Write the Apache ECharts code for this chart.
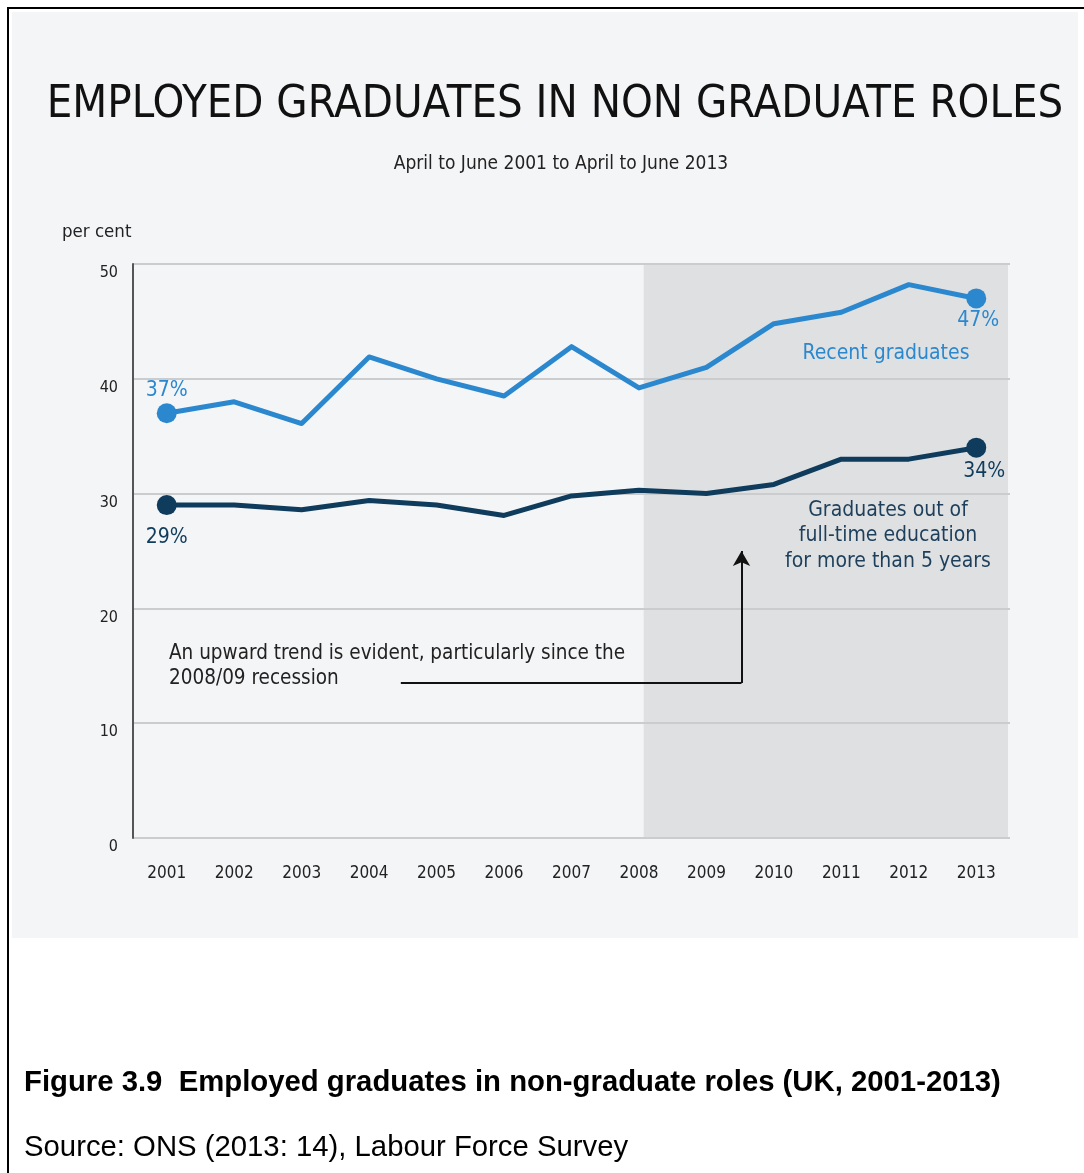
<!DOCTYPE html>
<html>
<head>
<meta charset="utf-8">
<script src="https://cdn.jsdelivr.net/npm/echarts@6/dist/echarts.min.js"></script>
<style>
  html, body { margin: 0; padding: 0; background: #ffffff; }
  #frame {
    position: absolute; left: 7px; top: 7px; width: 1077px; height: 1166px;
    border-left: 2px solid #000; border-top: 2px solid #000;
  }
  #panel {
    position: absolute; left: 12px; top: 12px; width: 1066px; height: 926px;
    background: #f4f5f7;
  }
  #chart { position: absolute; left: 0; top: 0; width: 1084px; height: 1173px; }
</style>
</head>
<body>
<div id="frame"></div>
<div id="panel"></div>
<div id="chart"></div>
<script>
// Survey years on the category axis
const years = ['2001','2002','2003','2004','2005','2006','2007','2008','2009','2010','2011','2012','2013'];
// Percentage of employed graduates in non-graduate roles
const recentGraduates = [37, 38.0, 36.1, 41.9, 40.0, 38.5, 42.8, 39.2, 41.0, 44.8, 45.8, 48.2, 47];
const establishedGraduates = [29, 29.0, 28.6, 29.4, 29.0, 28.1, 29.8, 30.3, 30.0, 30.8, 33.0, 33.0, 34];
// Value-axis ticks
const yTicks = [0, 10, 20, 30, 40, 50];
// Recession-onwards shaded period (in year units)
const shadedPeriod = [2008.07, 2013.47];
// Elbow arrow of the annotation: [year, per cent] points
const arrowPath = [[2004.47, 13.5], [2009.52, 13.5], [2009.52, 25.0]];

const FONT = '"DejaVu Sans Condensed", "DejaVu Sans", sans-serif';
const BLUE = '#2b88cf';
const NAVY = '#0f3c5c';

const chart = echarts.init(document.getElementById('chart'), null, { renderer: 'canvas' });

function endpointSeries(name, values, color, firstLabel, lastLabel) {
  const n = values.length;
  return {
    name: name,
    type: 'line',
    xAxisIndex: 0,
    yAxisIndex: 0,
    z: 3,
    symbol: 'circle',
    symbolSize: (v, p) => (p.dataIndex === 0 || p.dataIndex === n - 1) ? 20 : 0,
    showAllSymbol: true,
    lineStyle: { color: color, width: 5, cap: 'round', join: 'round' },
    itemStyle: { color: color },
    emphasis: { disabled: true },
    data: values.map((v, i) => {
      const item = { value: v };
      if (i === 0) item.label = Object.assign({ show: true }, firstLabel);
      if (i === n - 1) item.label = Object.assign({ show: true }, lastLabel);
      return item;
    }),
    label: {
      show: false,
      color: color,
      fontFamily: FONT,
      fontSize: 21,
      formatter: p => Math.round(p.value) + '%'
    }
  };
}

function note(x, y, text, size, color, align, lineHeight) {
  return {
    type: 'text', z: 50,
    style: {
      x: x, y: y, text: text, font: size + 'px ' + FONT, fill: color,
      textAlign: align, textVerticalAlign: 'middle', lineHeight: lineHeight || size
    }
  };
}

const option = {
  animation: false,
  grid: { left: 133, right: 74, top: 264, bottom: 335, containLabel: false },
  xAxis: [
    {
      type: 'category',
      data: years,
      boundaryGap: true,
      axisLine: { show: false },
      axisTick: { show: false },
      axisLabel: { color: '#222', fontFamily: FONT, fontSize: 17, margin: 27 }
    },
    {
      type: 'value',
      min: 2000.5,
      max: 2013.5,
      show: false
    }
  ],
  yAxis: {
    type: 'value',
    min: yTicks[0],
    max: yTicks[yTicks.length - 1],
    interval: 10,
    axisLine: { show: true, lineStyle: { color: '#555', width: 2 } },
    axisTick: { show: false },
    splitLine: { show: true, lineStyle: { color: '#cbccce', width: 2 } },
    axisLabel: {
      color: '#222', fontFamily: FONT, fontSize: 16, margin: 15,
      verticalAlign: 'top', padding: [1, 0, 0, 0]
    }
  },
  series: [
    {
      name: 'period',
      type: 'line',
      xAxisIndex: 1,
      yAxisIndex: 0,
      z: -1,
      data: [],
      silent: true,
      markArea: {
        z: -1,
        silent: true,
        itemStyle: { color: '#dfe0e2' },
        data: [[{ xAxis: shadedPeriod[0] }, { xAxis: shadedPeriod[1] }]]
      },
      markLine: {
        silent: true,
        animation: false,
        label: { show: false },
        lineStyle: { color: '#111', width: 2, type: 'solid' },
        symbolSize: [13, 15],
        data: [
          [{ coord: arrowPath[0], symbol: 'none' }, { coord: arrowPath[1], symbol: 'none' }],
          [{ coord: arrowPath[1], symbol: 'none' }, { coord: arrowPath[2], symbol: 'arrow' }]
        ]
      }
    },
    endpointSeries('Recent graduates', recentGraduates, BLUE,
      { position: 'top', distance: 2 },
      { position: 'bottom', distance: 2, offset: [2, 0] }),
    endpointSeries('Graduates out of full-time education for more than 5 years', establishedGraduates, NAVY,
      { position: 'bottom', distance: 12 },
      { position: 'bottom', distance: 3, offset: [8, 0] })
  ],
  graphic: [
    note(555, 105, 'EMPLOYED GRADUATES IN NON GRADUATE ROLES', 45, '#111', 'center'),
    note(561, 164, 'April to June 2001 to April to June 2013', 19, '#222', 'center'),
    note(62, 232, 'per cent', 18.5, '#222', 'left'),
    note(886, 354, 'Recent graduates', 21, BLUE, 'center'),
    note(888, 536, 'Graduates out of\nfull-time education\nfor more than 5 years', 21, '#1d3f5b', 'center', 25.5),
    note(169, 666.5, 'An upward trend is evident, particularly since the\n2008/09 recession', 20.5, '#222', 'left', 25),
    {
      type: 'text', z: 50,
      style: { x: 24, y: 1083, text: 'Figure 3.9  Employed graduates in non-graduate roles (UK, 2001-2013)', font: 'bold 29.3px "Liberation Sans", Arial, sans-serif', fill: '#000', textAlign: 'left', textVerticalAlign: 'middle' }
    },
    {
      type: 'text', z: 50,
      style: { x: 24, y: 1148, text: 'Source: ONS (2013: 14), Labour Force Survey', font: '29.3px "Liberation Sans", Arial, sans-serif', fill: '#000', textAlign: 'left', textVerticalAlign: 'middle' }
    }
  ]
};

chart.setOption(option);
</script>
</body>
</html>
